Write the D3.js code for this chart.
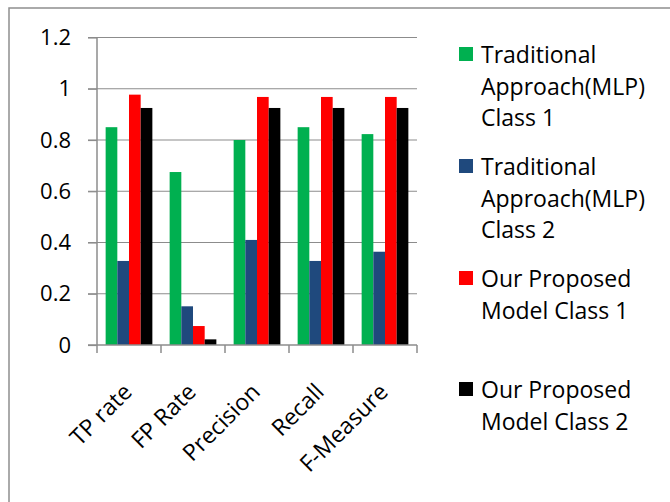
<!DOCTYPE html>
<html>
<head>
<meta charset="utf-8">
<script src="https://cdn.jsdelivr.net/npm/d3@7"></script>
<style>
  body { margin: 0; background: #fff; }
  svg { display: block; font-family: "Open Sans", sans-serif; }
</style>
</head>
<body>
<svg width="670" height="502"></svg>
<script>
const categories = ['TP rate', 'FP Rate', 'Precision', 'Recall', 'F-Measure'];
const seriesNames = [
	['Traditional', 'Approach(MLP)', 'Class 1'],
	['Traditional', 'Approach(MLP)', 'Class 2'],
	['Our Proposed', 'Model Class 1'],
	['Our Proposed', 'Model Class 2']
];
const mlpClass1 = [0.85, 0.675, 0.80, 0.85, 0.823];
const mlpClass2 = [0.328, 0.151, 0.41, 0.328, 0.364];
const oursClass1 = [0.977, 0.074, 0.968, 0.968, 0.968];
const oursClass2 = [0.925, 0.022, 0.925, 0.925, 0.925];
const yTicks = [0, 0.2, 0.4, 0.6, 0.8, 1, 1.2];

const colors = ['#00b050', '#1f497d', '#ff0000', '#000000'];
const series = [mlpClass1, mlpClass2, oursClass1, oursClass2];

const margin = {top: 37.5, left: 97, right: 253, bottom: 157};
const width = 670 - margin.left - margin.right;
const height = 502 - margin.top - margin.bottom;

const svg = d3.select('svg');

// outer chart frame (runs off the right and bottom edges)
svg.append('rect')
	.attr('x', 9).attr('y', 8)
	.attr('width', 700).attr('height', 600)
	.attr('fill', 'none')
	.attr('stroke', '#8f8f8f')
	.attr('stroke-width', 1.5);

const g = svg.append('g').attr('transform', `translate(${margin.left},${margin.top})`);

const x = d3.scaleBand().domain(categories).range([0, width]).paddingInner(0.27).paddingOuter(0.135);
const xi = d3.scaleBand().domain(d3.range(series.length)).range([0, x.bandwidth()]);
const y = d3.scaleLinear().domain([0, 1.2]).range([height, 0]);

// gridlines
g.selectAll('.grid')
	.data(yTicks.filter(d => d > 0))
	.enter()
	.append('line')
	.attr('x1', -9).attr('x2', width)
	.attr('y1', d => y(d)).attr('y2', d => y(d))
	.attr('stroke', '#8c8c8c')
	.attr('stroke-width', 1.2);

// bars
categories.forEach((c, i) => {
	g.selectAll(null)
		.data(series.map((s, k) => ({k, v: s[i]})))
		.enter()
		.append('rect')
		.attr('x', d => x(c) + xi(d.k))
		.attr('y', d => y(d.v))
		.attr('width', xi.bandwidth())
		.attr('height', d => height - y(d.v))
		.attr('fill', d => colors[d.k]);
});

// y axis
const yAxis = g.append('g')
	.call(d3.axisLeft(y).tickValues(yTicks).tickFormat(d3.format('')).tickSize(9).tickPadding(17));
yAxis.select('.domain').attr('stroke', '#8c8c8c').attr('stroke-width', 1.5).attr('d', `M0,${height}V0`);
yAxis.selectAll('.tick line').attr('stroke', '#8c8c8c').attr('stroke-width', 1.2);
yAxis.selectAll('.tick text').attr('font-size', 22).attr('fill', '#000').attr('font-family', '"Open Sans", sans-serif');

// x axis
const xAxis = g.append('g').attr('transform', `translate(0,${height})`);
xAxis.append('line')
	.attr('x1', -9).attr('x2', width)
	.attr('stroke', '#8c8c8c').attr('stroke-width', 1.5);
xAxis.selectAll('.xt')
	.data(d3.range(categories.length + 1))
	.enter()
	.append('line')
	.attr('x1', d => d * width / categories.length)
	.attr('x2', d => d * width / categories.length)
	.attr('y1', 0).attr('y2', 8)
	.attr('stroke', '#8c8c8c').attr('stroke-width', 1.5);
xAxis.selectAll('.xl')
	.data(categories)
	.enter()
	.append('text')
	.attr('text-anchor', 'end')
	.attr('font-size', 23)
	.attr('transform', d => `translate(${x(d) + x.bandwidth() / 2 - 7},${37}) rotate(-45)`)
	.attr('dy', '0.7em')
	.text(d => d);

// legend
const entryTop = [47, 159, 271, 382];
const leg = svg.append('g').attr('transform', 'translate(459,0)');
seriesNames.forEach((lines, k) => {
	const e = leg.append('g').attr('transform', `translate(0,${entryTop[k]})`);
	e.append('rect').attr('width', 14).attr('height', 14).attr('fill', colors[k]);
	lines.forEach((t, j) => {
		e.append('text')
			.attr('x', 22)
			.attr('y', 16 + j * 31.7)
			.attr('font-size', 23)
			.text(t);
	});
});
</script>
</body>
</html>
